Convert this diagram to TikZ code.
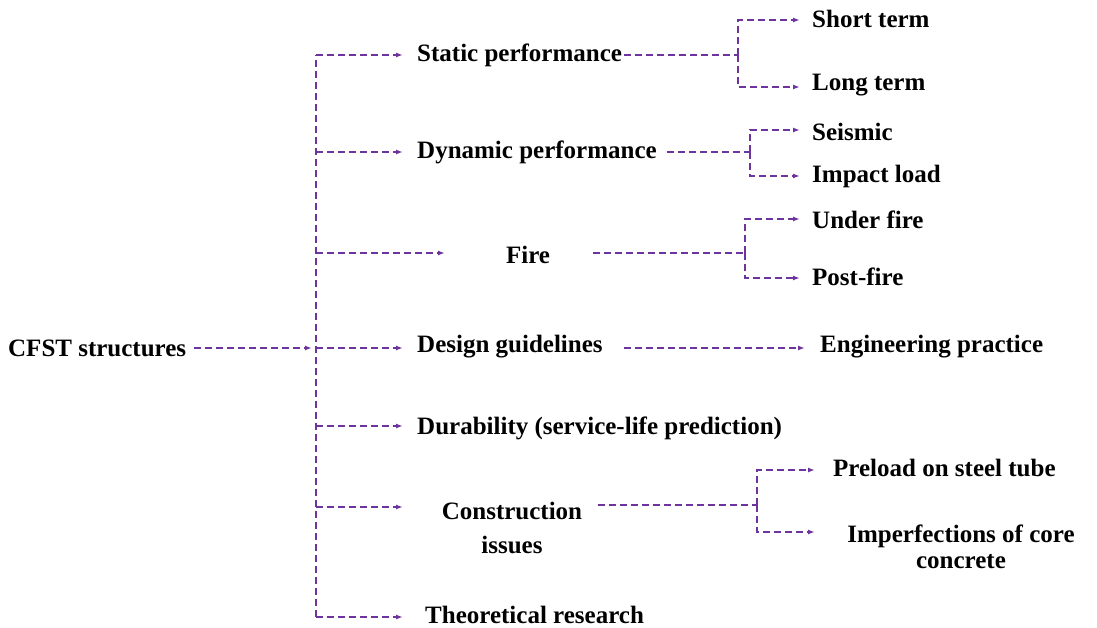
\documentclass[tikz,border=0pt]{standalone}
\usepackage{fontspec}
\setmainfont{Liberation Serif}
\usetikzlibrary{arrows.meta}
\definecolor{pur}{RGB}{110,52,158}
\begin{document}
\begin{tikzpicture}[x=1pt,y=-1pt,
  dl/.style={pur,line width=1.8pt,dash pattern=on 7pt off 4pt},
  arr/.style={dl,-{Latex[length=7pt,width=5pt]}},
  lbl/.style={inner sep=0pt,font=\fontsize{25}{26}\selectfont\bfseries,align=center}]
\useasboundingbox (0,0) rectangle (1097,628);
% nodes
\node[lbl,anchor=west] (cfst) at (8,348) {CFST structures};
\node[lbl,anchor=west] (stat) at (417,55) {Static performance};
\node[lbl,anchor=west] (dyn) at (417,152) {Dynamic performance};
\node[lbl] (fire) at (528,255) {Fire};
\node[lbl,anchor=west] (des) at (417,347) {Design guidelines};
\node[lbl,anchor=west] (dur) at (417,428) {Durability (service-life prediction)};
\node[lbl] (con) at (512,528) {Construction\\[8pt]issues};
\node[lbl,anchor=west] (theo) at (425,615) {Theoretical research};
\node[lbl,anchor=west] (st) at (812,19) {Short term};
\node[lbl,anchor=west] (lt) at (812,85) {Long term};
\node[lbl,anchor=west] (seis) at (812,132) {Seismic};
\node[lbl,anchor=west] (imp) at (812,176) {Impact load};
\node[lbl,anchor=west] (uf) at (812,220) {Under fire};
\node[lbl,anchor=west] (pf) at (812,277) {Post-fire};
\node[lbl,anchor=west] (eng) at (820,347) {Engineering practice};
\node[lbl,anchor=west] (pre) at (833,468) {Preload on steel tube};
\node[lbl] (imf) at (961,547) {Imperfections of core\\concrete};
% trunk
\coordinate (t0) at (316,55);
\coordinate (t1) at (316,152);
\coordinate (t2) at (316,253);
\coordinate (t3) at (316,348);
\coordinate (t4) at (316,426);
\coordinate (t5) at (316,507);
\coordinate (t6) at (316,617);
\draw[dl] (t6) -- (t0);
\draw[arr,shorten <=8pt,shorten >=4pt] (cfst.east) -- (t3);
\draw[arr,shorten >=14pt] (t0) -- (stat.west |- t0);
\draw[arr,shorten >=14pt] (t1) -- (dyn.west |- t1);
\draw[arr] (t2) -- (445,253) coordinate (fa);
\draw[arr,shorten >=14pt] (t3) -- (des.west |- t3);
\draw[arr,shorten >=14pt] (t4) -- (dur.west |- t4);
\draw[arr] (t5) -- (403,507) coordinate (ca);
\draw[arr,shorten >=22pt] (t6) -- (theo.west |- t6);
% static
\coordinate (s0) at (738,55);
\coordinate (s1) at (738,20);
\coordinate (s2) at (738,87);
\draw[dl,shorten <=2pt] (stat.east |- s0) -- (s0);
\draw[arr,shorten >=12pt] (s0) -- (s1) -- (st.west |- s1);
\draw[arr,shorten >=12pt] (s0) -- (s2) -- (lt.west |- s2);
% dynamic
\coordinate (d0) at (750,152);
\coordinate (d1) at (750,130);
\coordinate (d2) at (750,176);
\draw[dl,shorten <=10pt] (dyn.east |- d0) -- (d0);
\draw[arr,shorten >=12pt] (d0) -- (d1) -- (seis.west |- d1);
\draw[arr,shorten >=12pt] (d0) -- (d2) -- (imp.west |- d2);
% fire
\coordinate (f0) at (745,253);
\coordinate (f1) at (745,219);
\coordinate (f2) at (745,278);
\draw[dl,shorten <=43pt] (fire.east |- f0) -- (f0);
\draw[arr,shorten >=12pt] (f0) -- (f1) -- (uf.west |- f1);
\draw[arr,shorten >=12pt] (f0) -- (f2) -- (pf.west |- f2);
% design
\draw[arr,shorten <=21pt,shorten >=15pt] (des.east |- t3) -- (eng.west |- t3);
% construction
\coordinate (c0) at (757,505);
\coordinate (c1) at (757,470);
\coordinate (c2) at (757,532);
\draw[dl,shorten <=16pt] (con.east |- c0) -- (c0);
\draw[arr,shorten >=18pt] (c0) -- (c1) -- (pre.west |- c1);
\draw[arr] (c0) -- (c2) -- (815,532) coordinate (ia);
\end{tikzpicture}
\end{document}
